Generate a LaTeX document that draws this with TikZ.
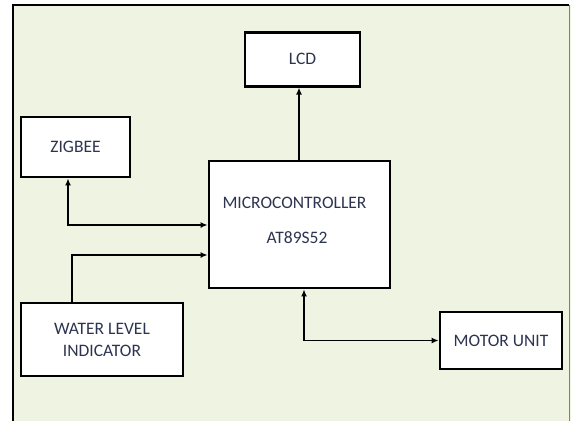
\documentclass[tikz,border=0pt]{standalone}
\usepackage{fontspec}
\setmainfont{Carlito}
\usepackage{xcolor}
\usetikzlibrary{arrows.meta,positioning}
\definecolor{paper}{RGB}{239,243,226}
\definecolor{labelblue}{RGB}{45,52,80}

\begin{document}
\begin{tikzpicture}[
    x=1pt, y=1pt,
    block/.style={draw, line width=2.8pt, fill=white, align=center, text=labelblue,
                  font=\fontsize{17.5}{22}\selectfont},
    caption/.style={text=labelblue, font=\fontsize{17.5}{22}\selectfont},
    link/.style={line width=1.6pt},
    >={Latex[length=7pt,width=6pt]}
]
    % page and frame
    \useasboundingbox (0,0) rectangle (571,-421);
    \fill[paper] (13,-5) rectangle (571,-421);
    \draw[line width=2.4pt] (13,-421) -- (13,-5) -- (569,-5);
    \draw[line width=1.6pt, gray] (569.5,-5) -- (569.5,-421);

    % Blocks
    \node[block, minimum width=181pt, minimum height=127pt] (MCU) at (299.5,-224.5) {};
    \node[caption, anchor=base west] (MCUname) at (219,-208) {MICROCONTROLLER};
    \node[caption, anchor=base] (MCUpart) at (297,-243) {AT89S52};
    \node[block, minimum width=115pt, minimum height=54pt, above=72pt of MCU.north, anchor=south, xshift=3pt] (LCD) {LCD};
    \node[block, minimum width=109pt, minimum height=60pt] (ZB) at (75.5,-147) {ZIGBEE};
    \node[block, minimum width=162pt, minimum height=73pt] (WLI) at (102,-339.5) {WATER LEVEL\\INDICATOR};
    \node[block, minimum width=122pt, minimum height=57pt] (MOT) at (501,-340.5) {MOTOR UNIT};

    % Connections
    \draw[link,->] ([xshift=-0.5pt]MCU.north) -- ([xshift=-3.5pt]LCD.south);
    \draw[link,<->] ([xshift=-7.5pt]ZB.south) |- ([yshift=-0.5pt]MCU.west);
    \draw[link,->] ([xshift=-30pt]WLI.north) |- ([yshift=-30.5pt]MCU.west);
    \draw[link,<->] ([xshift=4.5pt]MCU.south) |- (MOT.west);
\end{tikzpicture}
\end{document}
